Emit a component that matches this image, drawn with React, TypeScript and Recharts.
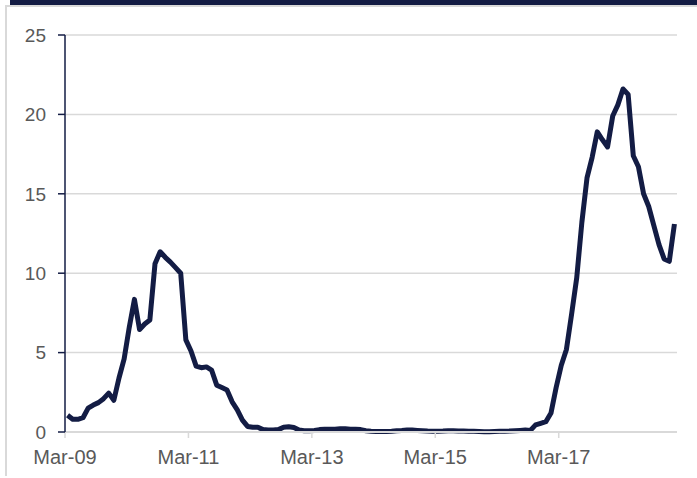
import React from 'react';
import { LineChart, Line, XAxis, YAxis, CartesianGrid } from 'recharts';

const monthNames = ['Jan', 'Feb', 'Mar', 'Apr', 'May', 'Jun', 'Jul', 'Aug', 'Sep', 'Oct', 'Nov', 'Dec'];

// Monthly categories starting Mar-09 (119 months)
const months: string[] = [];
for (let k = 0; k < 119; k++) {
  const m = (2 + k) % 12;
  const y = 2009 + Math.floor((2 + k) / 12);
  months.push(`${monthNames[m]}-${String(y % 100).padStart(2, '0')}`);
}

const values: number[] = [
  1.05, 0.8, 0.8, 0.9, 1.5, 1.7, 1.85, 2.1, 2.45, 2.0,
  3.4, 4.6, 6.6, 8.35, 6.45, 6.8, 7.05, 10.6, 11.35, 11.0,
  10.7, 10.35, 10.0, 5.8, 5.1, 4.15, 4.05, 4.1, 3.9, 2.95,
  2.8, 2.65, 1.9, 1.4, 0.75, 0.35, 0.3, 0.3, 0.15, 0.13,
  0.13, 0.15, 0.3, 0.33, 0.28, 0.12, 0.08, 0.08, 0.1, 0.15,
  0.17, 0.17, 0.17, 0.2, 0.2, 0.18, 0.17, 0.15, 0.08, 0.05,
  0.03, 0.03, 0.03, 0.05, 0.08, 0.1, 0.13, 0.12, 0.1, 0.08,
  0.06, 0.05, 0.05, 0.06, 0.08, 0.08, 0.07, 0.06, 0.05, 0.04,
  0.03, 0.02, 0.02, 0.03, 0.04, 0.05, 0.06, 0.08, 0.1, 0.12,
  0.1, 0.45, 0.55, 0.65, 1.2, 2.8, 4.2, 5.2, 7.4, 9.7,
  13.2, 16.0, 17.3, 18.9, 18.4, 17.95, 19.9, 20.6, 21.6, 21.25,
  17.4, 16.7, 15.0, 14.2, 13.0, 11.8, 10.9, 10.75, 13.1,
];

const tickLabels = ['Mar-09', 'Mar-11', 'Mar-13', 'Mar-15', 'Mar-17'];
const yTicks = [0, 5, 10, 15, 20, 25];

const data = months.map((m, i) => ({ i, month: m, value: values[i] }));
const xTicks = tickLabels.map((l) => months.indexOf(l) - 0.5);

const NAVY = '#131c44';
const GRID = '#d9d9d9';
const TEXT = '#595959';
const FONT = 'Liberation Sans, Arial, sans-serif';

export default function App() {
  return (
    <div style={{ position: 'absolute', left: 0, top: 0, width: 697, height: 478, background: '#fff', overflow: 'hidden' }}>
      <div style={{ position: 'absolute', left: 10, top: 0, width: 687, height: 5, background: NAVY }} />
      <div
        style={{
          position: 'absolute',
          left: 5,
          top: 5,
          width: 692,
          height: 471,
          borderLeft: `2px solid ${GRID}`,
          borderTop: `2px solid ${GRID}`,
          boxSizing: 'border-box',
        }}
      />
      <div style={{ position: 'absolute', left: 0, top: 0 }}>
        <LineChart width={697} height={478} data={data} margin={{ top: 35, right: 20, bottom: 0, left: 0 }}>
          <CartesianGrid vertical={false} stroke={GRID} strokeWidth={1.5} />
          <XAxis
            type="number"
            dataKey="i"
            domain={[-0.5, 118.5]}
            ticks={xTicks}
            interval={0}
            tickFormatter={(v: number) => months[Math.round(v + 0.5)]}
            height={46}
            axisLine={{ stroke: GRID, strokeWidth: 2 }}
            tickLine={{ stroke: GRID, strokeWidth: 1.5 }}
            tickSize={6}
            tickMargin={12}
            tick={{ fill: TEXT, fontSize: 20, fontFamily: FONT }}
          />
          <YAxis
            type="number"
            domain={[0, 25]}
            ticks={yTicks}
            interval={0}
            width={65}
            axisLine={{ stroke: NAVY, strokeWidth: 1.5 }}
            tickLine={{ stroke: NAVY, strokeWidth: 1.5 }}
            tickSize={7}
            tickMargin={12}
            tick={{ fill: TEXT, fontSize: 19, fontFamily: FONT }}
          />
          <Line
            type="linear"
            dataKey="value"
            stroke={NAVY}
            strokeWidth={5}
            strokeLinejoin="round"
            dot={false}
            activeDot={false}
            isAnimationActive={false}
          />
        </LineChart>
      </div>
    </div>
  );
}
